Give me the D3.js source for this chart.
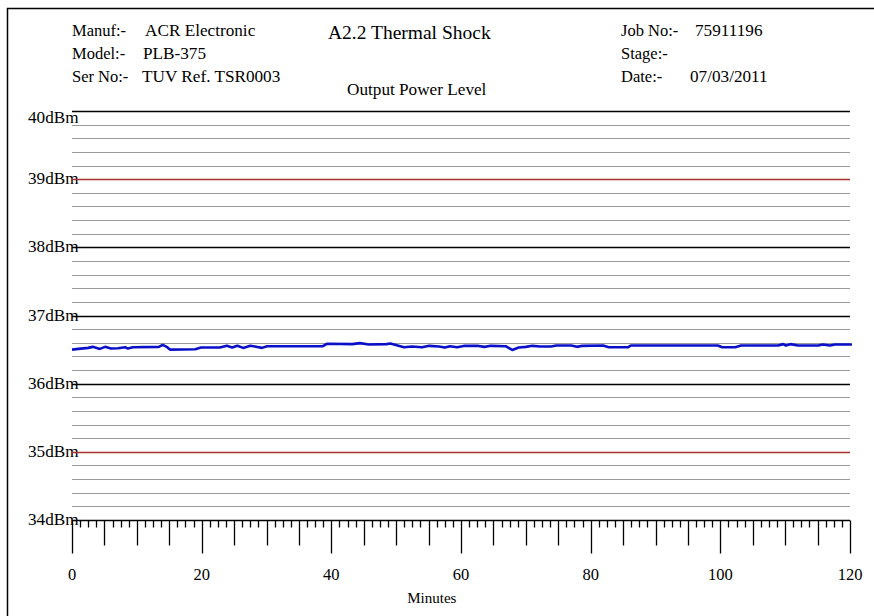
<!DOCTYPE html>
<html>
<head>
<meta charset="utf-8">
<script src="https://cdn.jsdelivr.net/npm/d3@7"></script>
<style>
  html, body { margin: 0; padding: 0; background: #fff; }
  svg { display: block; }
  text { font-family: "Liberation Serif", "Times New Roman", serif; fill: #000; }
</style>
</head>
<body>
<svg id="chart" width="874" height="616"></svg>
<script>
// Output power readings over the thermal shock run (minutes, dBm)
const minutes = [0, 1, 2.5, 3.2, 4.3, 5.1, 6, 7.1, 8.2, 8.6, 9.4, 13.4, 14, 14.6, 15.1, 19, 19.9,
  22.8, 23.9, 24.7, 25.5, 26.4, 27.5, 28.2, 29.3, 30.1, 38.7, 39.3, 43.2, 44.4, 45.8, 48.5, 49.1,
  51.2, 52.4, 54, 55.1, 56.6, 57.5, 58.3, 59.4, 60.6, 62.5, 63.6, 64.6, 66.9, 67.9, 68.9, 70, 71,
  72.3, 73.9, 74.7, 77, 77.9, 78.7, 81.9, 82.8, 85.8, 86.2, 99.6, 100.3, 101.6, 102.3, 103.2,
  108.9, 109.7, 110.1, 110.8, 112, 115.1, 115.8, 116.9, 117.7, 120.3];
const powerDbm = [36.50, 36.51, 36.525, 36.54, 36.51, 36.54, 36.515, 36.52, 36.535, 36.515, 36.535,
  36.54, 36.57, 36.54, 36.50, 36.505, 36.53,
  36.53, 36.555, 36.53, 36.555, 36.525, 36.555, 36.545, 36.525, 36.55, 36.55, 36.585, 36.58, 36.595,
  36.575, 36.58, 36.59,
  36.535, 36.545, 36.535, 36.555, 36.545, 36.53, 36.55, 36.535, 36.555, 36.555, 36.54, 36.555,
  36.55, 36.495, 36.53, 36.54, 36.555,
  36.545, 36.545, 36.56, 36.56, 36.54, 36.555, 36.56, 36.535, 36.535, 36.56, 36.56, 36.535,
  36.535, 36.535, 36.56,
  36.56, 36.58, 36.56, 36.58, 36.56, 36.56, 36.575, 36.56, 36.575, 36.575];

// Axis definitions
const yLevels = [34, 35, 36, 37, 38, 39, 40];
const limitLevels = [35, 39];
const xLabels = [0, 20, 40, 60, 80, 100, 120];

// Header block
const headerLeft = [["Manuf:-", "ACR Electronic"], ["Model:-", "PLB-375"], ["Ser No:-", "TUV Ref. TSR0003"]];
const headerRight = [["Job No:-", "75911196"], ["Stage:-", ""], ["Date:-", "07/03/2011"]];
const title = "A2.2 Thermal Shock";
const subtitle = "Output Power Level";
const xTitle = "Minutes";

const svg = d3.select("#chart");

const x = d3.scaleLinear().domain([0, 120]).range([72, 850]);
const y = d3.scaleLinear().domain([34, 40]).range([520, 111]);

// Page frame
svg.append("rect")
  .attr("x", 7.5).attr("y", 8.5).attr("width", 900).attr("height", 700)
  .attr("fill", "none").attr("stroke", "#000").attr("stroke-width", 1.5);

// Header text
const hdrSize = 17.2;
const leftRows = [36, 59, 82];
const valX = [145, 143, 142];
headerLeft.forEach((r, i) => {
  svg.append("text").attr("x", 72).attr("y", leftRows[i]).attr("font-size", 16.5).text(r[0]);
  svg.append("text").attr("x", valX[i]).attr("y", leftRows[i]).attr("font-size", hdrSize).text(r[1]);
});
const rightValX = [695, 695, 690];
headerRight.forEach((r, i) => {
  svg.append("text").attr("x", 621).attr("y", leftRows[i]).attr("font-size", 16.5).text(r[0]);
  svg.append("text").attr("x", rightValX[i]).attr("y", leftRows[i]).attr("font-size", hdrSize).text(r[1]);
});
svg.append("text").attr("x", 328).attr("y", 39).attr("font-size", 19.5).text(title);
svg.append("text").attr("x", 347).attr("y", 95).attr("font-size", 17.2).text(subtitle);

// dBm labels (drawn first so the gridlines run over them)
svg.append("g").selectAll("text").data(yLevels).join("text")
  .attr("x", 28)
  .attr("y", d => Math.max(y(d) + 5, 123))
  .attr("font-size", 17.2)
  .text(d => d + "dBm");

// Minor gridlines every 0.2 dBm
const minor = d3.range(34, 40.0001, 0.2).map(v => +v.toFixed(1)).filter(v => !Number.isInteger(v));
svg.append("g").selectAll("line").data(minor).join("line")
  .attr("x1", x(0)).attr("x2", x(120))
  .attr("y1", d => Math.round(y(d)) + 0.5).attr("y2", d => Math.round(y(d)) + 0.5)
  .attr("stroke", "#9a9a9a").attr("stroke-width", 1.2);

// Whole-dBm gridlines, limits in red
svg.append("g").selectAll("line").data(yLevels).join("line")
  .attr("x1", x(0)).attr("x2", x(120))
  .attr("y1", d => Math.round(y(d)) + 0.5).attr("y2", d => Math.round(y(d)) + 0.5)
  .attr("stroke", d => limitLevels.includes(d) ? "#a83232" : "#000")
  .attr("stroke-width", 1.3);

// Time axis ticks: long every 20, medium every 5, short every 1.25
const tickVals = d3.range(0, 120.001, 1.25);
const ax = svg.append("g").attr("transform", `translate(0,${Math.round(y(34)) + 0.5})`);
ax.selectAll("line").data(tickVals).join("line")
  .attr("x1", d => Math.round(x(d)) + 0.5).attr("x2", d => Math.round(x(d)) + 0.5)
  .attr("y1", 0)
  .attr("y2", d => (Math.abs(d % 20) < 1e-6 ? 33 : Math.abs(d % 5) < 1e-6 ? 25 : 7))
  .attr("stroke", "#000").attr("stroke-width", 1.3);

svg.append("g").selectAll("text").data(xLabels).join("text")
  .attr("x", d => x(d)).attr("y", 580)
  .attr("text-anchor", "middle").attr("font-size", 16.5)
  .text(d => d);

svg.append("text").attr("x", x(55.5)).attr("y", 603)
  .attr("text-anchor", "middle").attr("font-size", 15).text(xTitle);

// Power trace
const pts = minutes.map((m, i) => [m, powerDbm[i]]);
svg.append("path")
  .datum(pts)
  .attr("d", d3.line().x(d => x(d[0])).y(d => y(d[1])))
  .attr("fill", "none")
  .attr("stroke", "#0a10c8")
  .attr("stroke-width", 2.6)
  .attr("stroke-linejoin", "round");
</script>
</body>
</html>
